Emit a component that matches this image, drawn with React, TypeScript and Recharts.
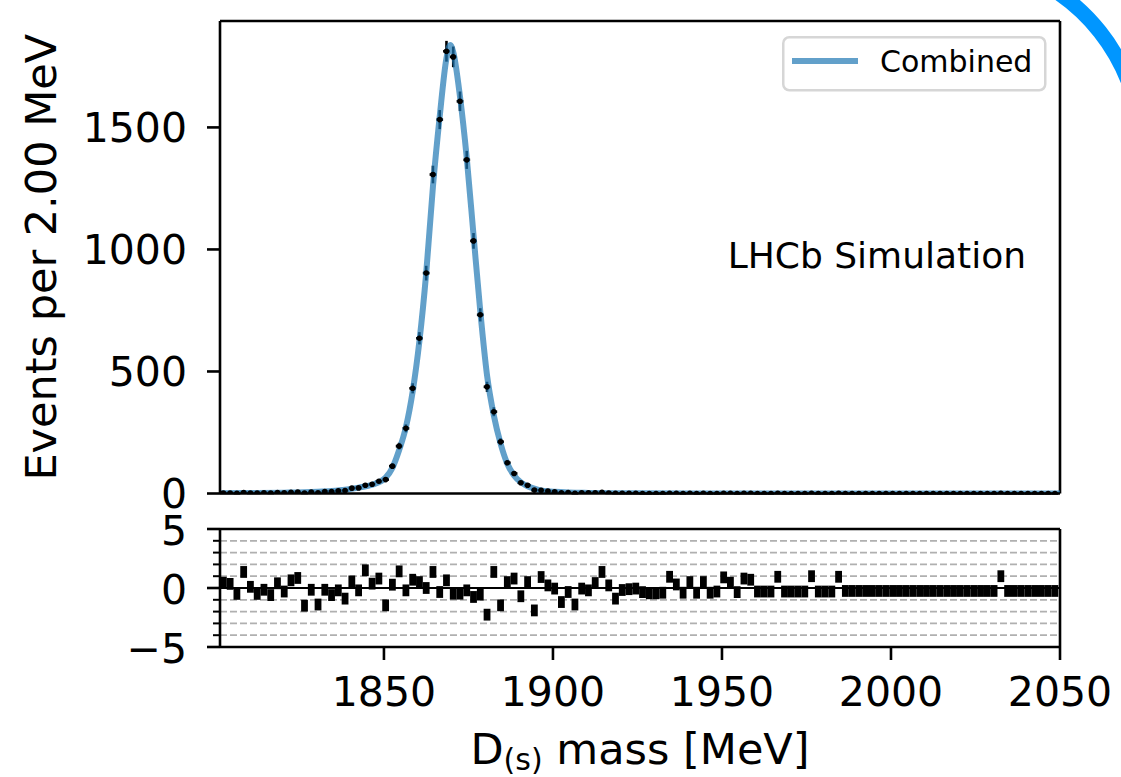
import React from 'react';
import {
  ComposedChart,
  XAxis,
  YAxis,
  Scatter,
  Line,
  ErrorBar,
  ReferenceLine,
  Legend,
  Label,
} from 'recharts';

// ---------- data ----------
const BIN_START = 1802.5; // first bin centre [MeV]
const BIN_WIDTH = 2; // MeV
const X_DOMAIN: [number, number] = [1801.5, 2050];
const Y_TOP_DOMAIN: [number, number] = [0, 1936];
const PULL_DOMAIN: [number, number] = [-5, 5];
const xTicks = [1850, 1900, 1950, 2000, 2050];
const yTicksTop = [0, 500, 1000, 1500];
const yTicksPull = [-5, -4, -3, -2, -1, 0, 1, 2, 3, 4, 5];
const pullGrid = [-4, -3, -2, -1, 1, 2, 3, 4];

const counts = [
  2, 2, 1, 4, 2, 2, 3, 2, 4, 3,
  5, 6, 2, 6, 3, 8, 8, 11, 12, 22,
  23, 34, 38, 50, 57, 112, 194, 267, 431, 636,
  903, 1307, 1532, 1812, 1789, 1607, 1367, 1035, 732, 437,
  335, 212, 126, 82, 44, 34, 14, 13, 10, 7,
  3, 4, 1, 3, 3, 3, 5, 2, 1, 1,
  1, 1, 0, 0, 0, 0, 1, 1, 0, 1,
  0, 1, 0, 0, 1, 1, 0, 1, 1, 0,
  0, 0, 1, 0, 0, 0, 0, 1, 0, 0,
  0, 1, 0, 0, 0, 0, 0, 0, 0, 0,
  0, 0, 0, 0, 0, 0, 0, 0, 0, 0,
  0, 0, 0, 0, 0, 1, 0, 0, 0, 0,
  0, 0, 0, 0,
];

const pulls = [
  0.45, 0.35, -0.5, 1.36, 0.1, -0.5, -0.15, -0.6, 0.4, -0.3,
  0.65, 0.85, -1.5, -0.15, -1.4, -0.15, -0.6, -0.2, -0.9, 0.56,
  -0.2, 1.5, 0.37, 0.8, -1.47, 0.28, 1.41, -0.2, 0.7, 0.5,
  0.0, 1.36, -0.34, 0.65, -0.48, -0.48, -0.2, -0.76, -0.56, -2.26,
  1.36, -1.47, 0.5, 0.8, -0.7, 0.5, -1.9, 0.93, 0.22, -0.05,
  -1.19, -0.34, -1.4, -0.05, -0.2, 0.42, 1.36, 0.22, -0.9, -0.17,
  -0.1, -0.05, -0.35, -0.45, -0.45, -0.4, 0.95, 0.3, -0.4, 0.5,
  -0.4, 0.5, -0.4, -0.3, 0.9, 0.45, -0.35, 0.8, 0.7, -0.3,
  -0.3, -0.3, 0.95, -0.3, -0.3, -0.3, -0.3, 1.0, -0.3, -0.3,
  -0.3, 0.95, -0.25, -0.25, -0.25, -0.25, -0.25, -0.25, -0.25, -0.25,
  -0.25, -0.25, -0.25, -0.25, -0.25, -0.25, -0.25, -0.25, -0.25, -0.25,
  -0.25, -0.25, -0.25, -0.25, -0.25, 1.0, -0.25, -0.25, -0.25, -0.25,
  -0.25, -0.25, -0.25, -0.25,
];

// fitted "Combined" curve
const fitMass = [
  1801.5, 1812.5, 1820.5, 1826.5, 1830.5, 1834.5, 1838.5, 1842.5, 1846.5, 1850.5,
  1852.5, 1854.5, 1856.5, 1858.5, 1860.5, 1862.5, 1864.5, 1866.5, 1868.5, 1869.6,
  1870.5, 1872.5, 1874.5, 1876.5, 1878.5, 1880.5, 1882.5, 1884.5, 1886.5, 1888.5,
  1890.5, 1892.5, 1894.5, 1896.5, 1898.5, 1900.5, 1904.5, 1910.5, 1918.5, 1926.5,
  1940.5, 1960.5, 1990.5, 2050,
];
const fitValue = [
  1.2, 2.2, 3.5, 5, 7, 10, 15, 24, 36, 65,
  105, 178, 272, 418, 625, 903, 1258, 1545, 1784, 1838,
  1809, 1626, 1374, 1059, 747, 484, 320, 205, 122, 74,
  46, 30, 20, 13, 9, 7, 4.3, 2.5, 1.3, 0.8,
  0.4, 0.2, 0.1, 0.05,
];

const PULL_HALF = 0.5;

// ---------- tables for the library ----------
const binCenters = counts.map((_, i) => BIN_START + BIN_WIDTH * i);
const points = binCenters.map((m, i) => ({
  m,
  v: counts[i],
  err: Math.sqrt(counts[i]),
  xerr: BIN_WIDTH / 2,
}));
const fitData = fitMass.map((m, i) => ({ m, v: fitValue[i] }));
const pullData = binCenters.map((m, i) => ({ m, p: pulls[i], e: PULL_HALF }));

// ---------- styling ----------
const FONT = "'DejaVu Sans', 'Liberation Sans', sans-serif";
const SPINE = { stroke: '#000', strokeWidth: 2.6 };
const TICK_SIZE = 13;
const TICK_MARGIN = 20;
const TICK_FONT = 41;
const LABEL_FONT = 43;
const LINE_COLOR = '#1f77b4';

const fmt = (v: number) => (v < 0 ? '\u2212' + Math.abs(v) : String(v));

const PullTick = (props: any) => {
  const { x, y, payload } = props;
  const v = payload.value as number;
  const major = v % 5 === 0;
  const end = x + TICK_MARGIN + TICK_SIZE;
  const len = major ? TICK_SIZE : 7;
  return (
    <g>
      <line x1={end - len} x2={end} y1={y} y2={y} stroke="#000" strokeWidth={major ? 2.6 : 2} />
      {major && (
        <text x={x} y={y} dy="0.4em" textAnchor="end" fontSize={TICK_FONT} fill="#000" fontFamily={FONT}>
          {fmt(v)}
        </text>
      )}
    </g>
  );
};

const YLabel = (props: any) => {
  const vb = props.viewBox || { x: 0, y: 21, width: 220, height: 472.5 };
  const cx = vb.x + 56;
  const cy = vb.y + vb.height / 2;
  return (
    <text
      x={cx}
      y={cy}
      textAnchor="middle"
      fontSize={LABEL_FONT}
      fill="#000"
      fontFamily={FONT}
      transform={`rotate(-90 ${cx} ${cy})`}
    >
      Events per 2.00 MeV
    </text>
  );
};

const XLabel = (props: any) => {
  const vb = props.viewBox || { x: 220, y: 147, width: 840, height: 130 };
  const cx = vb.x + vb.width / 2;
  const by = vb.y + 117;
  return (
    <text x={cx} y={by} textAnchor="middle" fontSize={LABEL_FONT} fill="#000" fontFamily={FONT}>
      <tspan>D</tspan>
      <tspan fontSize={30} dy={6}>(s)</tspan>
      <tspan dy={-6}> mass [MeV]</tspan>
    </text>
  );
};

const LegendBox = () => (
  <svg width={266} height={57} style={{ display: 'block' }}>
    <rect x={1.25} y={1.25} width={262} height={53} rx={6} fill="#fff" fillOpacity={0.8} stroke="#d6d6d6" strokeWidth={2.5} />
    <line x1={10} x2={76} y1={25} y2={25} stroke={LINE_COLOR} strokeOpacity={0.7} strokeWidth={6} />
    <text x={98} y={36} fontSize={30} fill="#000" fontFamily={FONT}>
      Combined
    </text>
  </svg>
);

const Dot = (props: any) => <circle cx={props.cx} cy={props.cy} r={2.8} fill="#000" />;
const Empty = () => <g />;

export default function App() {
  return (
    <div
      style={{
        position: 'absolute',
        left: 0,
        top: 0,
        width: 1121,
        height: 777,
        background: '#fff',
        fontFamily: FONT,
        overflow: 'hidden',
      }}
    >
      {/* main panel */}
      <div style={{ position: 'absolute', left: 0, top: 0 }}>
        <ComposedChart width={1121} height={520} margin={{ top: 21, right: 61, bottom: 0, left: 0 }}>
          <XAxis
            xAxisId="x"
            type="number"
            dataKey="m"
            domain={X_DOMAIN}
            ticks={xTicks}
            tick={false}
            tickSize={TICK_SIZE}
            height={26.5}
            axisLine={SPINE}
            tickLine={SPINE}
            allowDataOverflow
          />
          <YAxis
            yAxisId="y"
            type="number"
            dataKey="v"
            domain={Y_TOP_DOMAIN}
            ticks={yTicksTop}
            width={220}
            tickSize={TICK_SIZE}
            tickMargin={TICK_MARGIN}
            tick={{ fontSize: TICK_FONT, fill: '#000', fontFamily: FONT }}
            axisLine={SPINE}
            tickLine={SPINE}
            allowDataOverflow
          >
            <Label content={YLabel} />
          </YAxis>
          <ReferenceLine xAxisId="x" yAxisId="y" y={Y_TOP_DOMAIN[1]} stroke="#000" strokeWidth={2.6} ifOverflow="visible" />
          <ReferenceLine xAxisId="x" yAxisId="y" x={X_DOMAIN[1]} stroke="#000" strokeWidth={2.6} ifOverflow="visible" />
          <Scatter
            xAxisId="x"
            yAxisId="y"
            data={points}
            dataKey="v"
            name="data"
            legendType="none"
            shape={Dot}
            isAnimationActive={false}
          >
            <ErrorBar dataKey="err" direction="y" width={0} stroke="#000" strokeWidth={2.6} isAnimationActive={false} />
            <ErrorBar dataKey="xerr" direction="x" width={0} stroke="#000" strokeWidth={2.6} isAnimationActive={false} />
          </Scatter>
          <Line
            xAxisId="x"
            yAxisId="y"
            data={fitData}
            dataKey="v"
            name="Combined"
            type="monotone"
            dot={false}
            activeDot={false}
            stroke={LINE_COLOR}
            strokeOpacity={0.7}
            strokeWidth={6}
            isAnimationActive={false}
          />
          <Legend
            layout="vertical"
            align="center"
            verticalAlign="middle"
            content={LegendBox}
            wrapperStyle={{ left: 782, top: 36, width: 266, height: 57 }}
          />
          <text x={1026} y={268} textAnchor="end" fontSize={36} fill="#000" fontFamily={FONT}>
            LHCb Simulation
          </text>
        </ComposedChart>
      </div>

      {/* pull panel */}
      <div style={{ position: 'absolute', left: 0, top: 500 }}>
        <ComposedChart width={1121} height={277} margin={{ top: 29, right: 61, bottom: 0, left: 0 }}>
          <XAxis
            xAxisId="x"
            type="number"
            dataKey="m"
            domain={X_DOMAIN}
            ticks={xTicks}
            tickSize={TICK_SIZE}
            tickMargin={17}
            height={130}
            tick={{ fontSize: TICK_FONT, fill: '#000', fontFamily: FONT }}
            axisLine={SPINE}
            tickLine={SPINE}
            allowDataOverflow
          >
            <Label content={XLabel} />
          </XAxis>
          <YAxis
            yAxisId="y"
            type="number"
            dataKey="p"
            domain={PULL_DOMAIN}
            ticks={yTicksPull}
            interval={0}
            width={220}
            tickSize={TICK_SIZE}
            tickMargin={TICK_MARGIN}
            tick={PullTick}
            tickLine={false}
            axisLine={SPINE}
            allowDataOverflow
          />
          {pullGrid.map((g) => (
            <ReferenceLine
              key={g}
              xAxisId="x"
              yAxisId="y"
              y={g}
              stroke="#b0b0b0"
              strokeWidth={1.7}
              strokeDasharray="7 3"
            />
          ))}
          <ReferenceLine xAxisId="x" yAxisId="y" y={0} stroke="#000" strokeWidth={2} />
          <ReferenceLine xAxisId="x" yAxisId="y" y={PULL_DOMAIN[1]} stroke="#000" strokeWidth={2.6} ifOverflow="visible" />
          <ReferenceLine xAxisId="x" yAxisId="y" x={X_DOMAIN[1]} stroke="#000" strokeWidth={2.6} ifOverflow="visible" />
          <Scatter
            xAxisId="x"
            yAxisId="y"
            data={pullData}
            dataKey="p"
            name="pull"
            legendType="none"
            shape={Empty}
            isAnimationActive={false}
          >
            <ErrorBar dataKey="e" direction="y" width={0} stroke="#000" strokeWidth={6.8} isAnimationActive={false} />
          </Scatter>
        </ComposedChart>
      </div>

      {/* blue arc in the corner */}
      <svg width={1121} height={777} style={{ position: 'absolute', left: 0, top: 0, pointerEvents: 'none' }}>
        <path d="M 1054 -10 A 191 191 0 0 1 1130 86" fill="none" stroke="#0096ff" strokeWidth={15} />
      </svg>
    </div>
  );
}
